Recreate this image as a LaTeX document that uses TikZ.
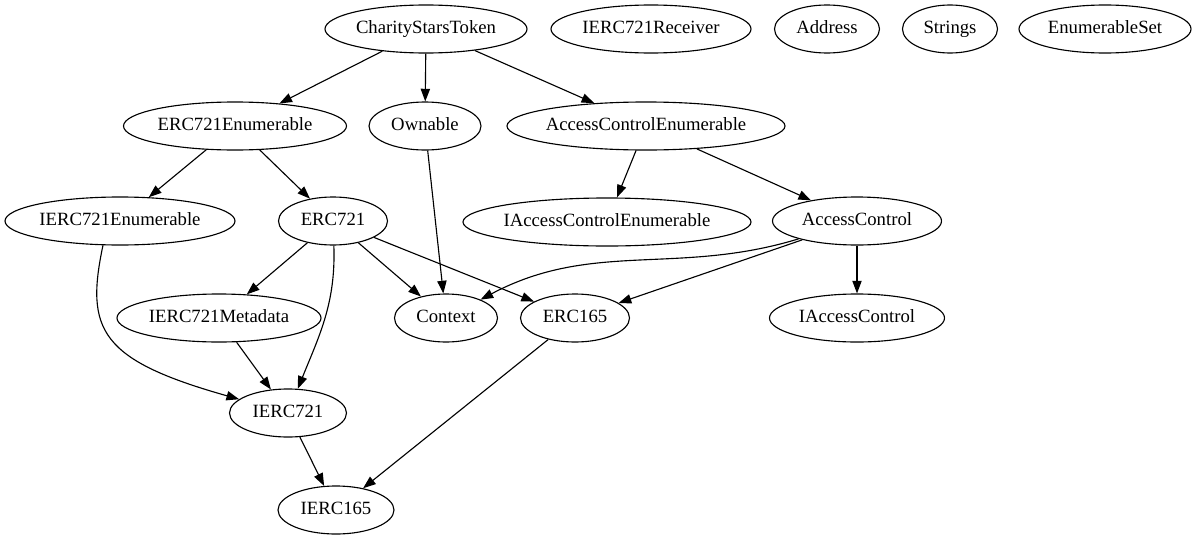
\documentclass[tikz,border=0pt]{standalone}
\usepackage{fontspec}
\setmainfont{Liberation Serif}
\usepackage{tikz}
\usetikzlibrary{shapes.geometric, arrows.meta}

\begin{document}
\begin{tikzpicture}[x=0.025cm, y=-0.025cm,
  cls/.style={draw, ellipse, line width=0.8pt, inner xsep=-12pt, inner ysep=0pt, minimum height=1.2cm, text height=0.7em, text depth=0.05em, font=\fontsize{13.3}{15}\selectfont},
  ew/.style={minimum width=#1*0.025cm},
  dep/.style={line width=0.8pt, -{Triangle[length=9pt, width=6.6pt]}}]
\useasboundingbox (0,0) rectangle (1196,539);
% top row
\node[cls, ew=202] (cst) at (426,29) {CharityStarsToken};
\node[cls, ew=200] (receiver) at (651,29) {IERC721Receiver};
\node[cls, ew=105] (address) at (827,29) {Address};
\node[cls, ew=95] (strings) at (950,29) {Strings};
\node[cls, ew=172] (enumset) at (1105,29) {EnumerableSet};
% second row
\node[cls, ew=223] (erc721enum) at (235,126) {ERC721Enumerable};
\node[cls, ew=112] (ownable) at (425,126) {Ownable};
\node[cls, ew=278] (acenum) at (646,126) {AccessControlEnumerable};
% third row
\node[cls, ew=230] (ierc721enum) at (120,221) {IERC721Enumerable};
\node[cls, ew=109] (erc721) at (333,221) {ERC721};
\node[cls, ew=288] (iacenum) at (607,222) {IAccessControlEnumerable};
\node[cls, ew=169] (accessctl) at (857,221) {AccessControl};
% fourth row
\node[cls, ew=204] (ierc721meta) at (219,318) {IERC721Metadata};
\node[cls, ew=103] (context) at (446,318) {Context};
\node[cls, ew=109] (erc165) at (575,318) {ERC165};
\node[cls, ew=175] (iaccessctl) at (857,318) {IAccessControl};
% bottom
\node[cls, ew=117] (ierc721) at (288,413) {IERC721};
\node[cls, ew=116] (ierc165) at (336,510) {IERC165};

\draw[dep] (cst) -- (erc721enum);
\draw[dep] (cst) -- (ownable);
\draw[dep] (cst) -- (acenum);
\draw[dep] (erc721enum) -- (ierc721enum);
\draw[dep] (erc721enum) -- (erc721);
\draw[dep] (ownable) -- (context);
\draw[dep] (acenum) -- (iacenum);
\draw[dep] (acenum) -- (accessctl);
\draw[dep] (ierc721enum.235) .. controls (85,330) and (100,360) .. (ierc721);
\draw[dep] (erc721) -- (ierc721meta);
\draw[dep] (erc721) to[out=-88, in=68] (ierc721);
\draw[dep] (erc721) -- (context);
\draw[dep] (erc721) -- (erc165);
\draw[dep] (accessctl) to[out=197, in=28] (context);
\draw[dep] (accessctl) -- (erc165);
\draw[dep] (accessctl) -- (iaccessctl);
\draw[dep] (ierc721meta) -- (ierc721);
\draw[dep] (ierc721) -- (ierc165);
\draw[dep] (erc165) -- (ierc165);
\end{tikzpicture}
\end{document}
